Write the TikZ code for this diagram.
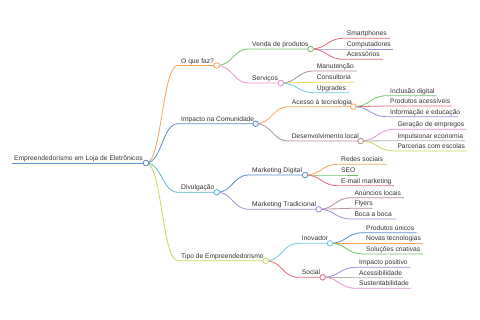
\documentclass[tikz,border=0pt]{standalone}
\usepackage{fontspec}
\setmainfont{Liberation Sans}
\usepackage{xcolor}
\usetikzlibrary{calc}
\definecolor{Map_Text}{HTML}{333333}
\definecolor{Map_Orange}{HTML}{F5A65B}
\definecolor{Map_Blue}{HTML}{5B8DC9}
\definecolor{Map_Teal}{HTML}{55B6D0}
\definecolor{Map_Lime}{HTML}{C9D55A}
\definecolor{Map_Green}{HTML}{72BF6A}
\definecolor{Map_Pink}{HTML}{E393D0}
\definecolor{Map_Red}{HTML}{E06C7A}
\definecolor{Map_Purple}{HTML}{9C8FDB}
\definecolor{Map_Mauve}{HTML}{B38C9A}
\definecolor{Map_Grey}{HTML}{BBB0B5}
\definecolor{Map_Cyan}{HTML}{6CCBE0}
\definecolor{Map_Yellow}{HTML}{E0DB5C}

% one branch: name, parent, start x, end x, y, colour, text
\newcommand{\mapitem}[7]{%
  \coordinate (#1-s) at (#3,#5);
  \coordinate (#1) at (#4,#5);
  \coordinate (#1-m) at ($(#2)!0.5!(#1-s)$);
  \node[maptext] (#1-t) at ([xshift=3pt,yshift=2.3pt]#1-s) {#7};
  \draw[mapline, #6] (#2) .. controls (#1-m |- #2) and (#1-m |- #1-s) .. (#1-s) -- (#1);
}

\begin{document}
\begin{tikzpicture}[x=1pt, y=-1pt,
    maptext/.style={anchor=base west, inner sep=0pt, text=Map_Text,
      font=\fontsize{6.7}{8}\selectfont},
    mapline/.style={line width=0.8pt},
    mapdot/.style={draw=#1, line width=0.8pt, fill=white}]
    \useasboundingbox (0,0) rectangle (480,320);

    % Root
    \coordinate (root-s) at (12,163);
    \coordinate (root) at (146,163);
    \node[maptext] (root-t) at ([xshift=2pt,yshift=2.3pt]root-s) {Empreendedorismo em Loja de Eletrônicos};
    \draw[mapline, Map_Blue] (root-s) -- (root);

    % First level
    \mapitem{oque}{root}{178}{216.7}{65.5}{Map_Orange}{O que faz?}
    \mapitem{impacto}{root}{178}{255.7}{123.7}{Map_Blue}{Impacto na Comunidade}
    \mapitem{divul}{root}{178}{216.7}{192.3}{Map_Teal}{Divulgação}
    \mapitem{tipo}{root}{178}{265.7}{260.7}{Map_Lime}{Tipo de Empreendedorismo}

    % Second level
    \mapitem{venda}{oque}{249}{310.7}{49}{Map_Green}{Venda de produtos}
    \mapitem{serv}{oque}{249}{281}{83}{Map_Pink}{Serviços}
    \mapitem{acesso}{impacto}{288.7}{353.3}{106.7}{Map_Orange}{Acesso à tecnologia}
    \mapitem{desenv}{impacto}{288.7}{360.7}{141}{Map_Mauve}{Desenvolvimento local}
    \mapitem{mdig}{divul}{249}{305}{175}{Map_Blue}{Marketing Digital}
    \mapitem{mtrad}{divul}{249}{318.7}{209.3}{Map_Purple}{Marketing Tradicional}
    \mapitem{inov}{tipo}{298.7}{330}{243.3}{Map_Cyan}{Inovador}
    \mapitem{social}{tipo}{298.7}{322.7}{277.3}{Map_Red}{Social}

    % Leaves: Venda de produtos
    \mapitem{smart}{venda}{343.7}{390}{38.3}{Map_Red}{Smartphones}
    \mapitem{comp}{venda}{343.7}{393}{49}{Map_Purple}{Computadores}
    \mapitem{aces}{venda}{343.7}{383}{59.3}{Map_Red}{Acessórios}

    % Leaves: Serviços
    \mapitem{manut}{serv}{313.7}{356.7}{71}{Map_Mauve}{Manutenção}
    \mapitem{consul}{serv}{313.7}{354}{82.3}{Map_Yellow}{Consultoria}
    \mapitem{upgr}{serv}{313.7}{349}{92.7}{Map_Cyan}{Upgrades}

    % Leaves: Acesso à tecnologia
    \mapitem{inclu}{acesso}{387}{436.7}{95.7}{Map_Green}{Inclusão digital}
    \mapitem{prodac}{acesso}{387}{451.7}{106}{Map_Red}{Produtos acessíveis}
    \mapitem{info}{acesso}{387}{458}{116.7}{Map_Purple}{Informação e educação}

    % Leaves: Desenvolvimento local
    \mapitem{gera}{desenv}{394.3}{466.7}{129.3}{Map_Pink}{Geração de empregos}
    \mapitem{impul}{desenv}{394.3}{465}{140.7}{Map_Grey}{Impulsionar economia}
    \mapitem{parc}{desenv}{394.3}{466.7}{151}{Map_Lime}{Parcerias com escolas}

    % Leaves: Marketing Digital
    \mapitem{redes}{mdig}{338}{386.7}{164.3}{Map_Orange}{Redes sociais}
    \mapitem{seo}{mdig}{338}{358}{175}{Map_Green}{SEO}
    \mapitem{email}{mdig}{338}{394}{185.7}{Map_Red}{E-mail marketing}

    % Leaves: Marketing Tradicional
    \mapitem{anun}{mtrad}{351.3}{404}{197.7}{Map_Mauve}{Anúncios locais}
    \mapitem{flyer}{mtrad}{351.3}{373}{208.3}{Map_Mauve}{Flyers}
    \mapitem{boca}{mtrad}{351.3}{396}{219}{Map_Purple}{Boca a boca}

    % Leaves: Inovador
    \mapitem{unico}{inov}{363}{416.7}{232.7}{Map_Blue}{Produtos únicos}
    \mapitem{novas}{inov}{363}{423.3}{243.3}{Map_Orange}{Novas tecnologias}
    \mapitem{solu}{inov}{363}{423}{254}{Map_Green}{Soluções criativas}

    % Leaves: Social
    \mapitem{posit}{social}{356}{410}{267.3}{Map_Purple}{Impacto positivo}
    \mapitem{acessi}{social}{356}{403}{277.7}{Map_Grey}{Acessibilidade}
    \mapitem{sust}{social}{356}{411}{288.3}{Map_Pink}{Sustentabilidade}

    % Circles on inner nodes
    \path[mapdot=Map_Blue] (root) circle (2.8pt);
    \path[mapdot=Map_Orange] (oque) circle (2.8pt);
    \path[mapdot=Map_Blue] (impacto) circle (2.8pt);
    \path[mapdot=Map_Teal] (divul) circle (2.8pt);
    \path[mapdot=Map_Lime] (tipo) circle (2.8pt);
    \path[mapdot=Map_Green] (venda) circle (2.8pt);
    \path[mapdot=Map_Pink] (serv) circle (2.8pt);
    \path[mapdot=Map_Orange] (acesso) circle (2.8pt);
    \path[mapdot=Map_Mauve] (desenv) circle (2.8pt);
    \path[mapdot=Map_Blue] (mdig) circle (2.8pt);
    \path[mapdot=Map_Purple] (mtrad) circle (2.8pt);
    \path[mapdot=Map_Cyan] (inov) circle (2.8pt);
    \path[mapdot=Map_Red] (social) circle (2.8pt);
\end{tikzpicture}
\end{document}
